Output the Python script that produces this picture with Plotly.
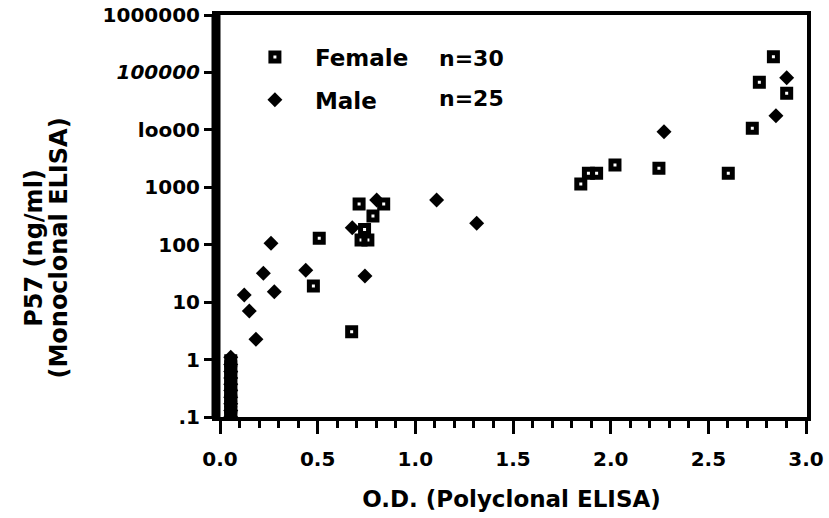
import plotly.graph_objects as go

# ---- data ----
female_od = [0.508, 0.478, 0.674, 0.712, 0.838, 0.783, 0.740, 0.722, 0.757,
             2.833, 2.761, 2.901, 2.725, 2.022, 1.928, 1.886, 1.847, 2.247, 2.602,
             0.055, 0.055, 0.055, 0.055, 0.055, 0.055, 0.055, 0.055, 0.055, 0.055, 0.055]
female_p57 = [129, 19.1, 3.06, 512, 512, 316, 184, 121, 121,
              188000, 67300, 43300, 10650, 2445, 1752, 1752, 1141, 2142, 1752,
              0.1, 0.12, 0.15, 0.19, 0.24, 0.3, 0.38, 0.48, 0.6, 0.75, 0.95]
male_od = [0.124, 0.150, 0.184, 0.222, 0.261, 0.278, 0.439, 0.677, 0.742, 0.802,
           1.109, 1.314, 2.273, 2.846, 2.901,
           0.055, 0.055, 0.055, 0.055, 0.055, 0.055, 0.055, 0.055, 0.055, 0.055]
male_p57 = [13.3, 7.0, 2.25, 31.8, 106, 15.2, 36, 198, 28.5, 601,
            601, 236, 9290, 17650, 81000,
            0.1, 0.13, 0.17, 0.22, 0.29, 0.37, 0.48, 0.62, 0.82, 1.1]

x_ticks = [0.0, 0.5, 1.0, 1.5, 2.0, 2.5, 3.0]
x_ticklabels = ["0.0", "0.5", "1.0", "1.5", "2.0", "2.5", "3.0"]
y_ticks = [0.1, 1, 10, 100, 1000, 10000, 100000, 1000000]
y_ticklabels = [".1", "1", "10", "100", "1000", "loo00", "<i>100000</i>", "1000000"]

series_names = ["Female", "Male"]
series_counts = ["n=30", "n=25"]

FONT = "DejaVu Sans"

fig = go.Figure()
fig.add_trace(go.Scatter(
    x=female_od, y=female_p57, mode="markers", name=series_names[0],
    legendgroup="f",
    marker=dict(symbol="square-open", size=8, color="black",
                line=dict(color="black", width=5)),
))
fig.add_trace(go.Scatter(
    x=male_od, y=male_p57, mode="markers", name=series_names[1],
    legendgroup="m",
    marker=dict(symbol="diamond", size=11.5, color="black", line=dict(width=0)),
))

fig.update_layout(
    width=829, height=518,
    margin=dict(l=216, r=22, t=15, b=101),
    paper_bgcolor="white", plot_bgcolor="white",
    font=dict(family=FONT, color="black"),
    showlegend=True,
    legend=dict(x=0.032, y=0.949, xanchor="left", yanchor="top",
                font=dict(family=FONT, size=23, weight="bold"),
                itemwidth=70, tracegroupgap=10, traceorder="grouped",
                bgcolor="rgba(0,0,0,0)"),
    xaxis=dict(
        automargin=False,
        range=[-0.0205, 3.005],
        tickmode="array", tickvals=x_ticks, ticktext=x_ticklabels,
        ticks="outside", ticklen=13, tickwidth=3, tickcolor="black",
        minor=dict(tickmode="linear", tick0=0, dtick=0.1, ticks="outside",
                   ticklen=7, tickwidth=3, tickcolor="black", showgrid=False),
        showline=True, linewidth=4, linecolor="black", mirror=True,
        showgrid=False, zeroline=False,
        tickfont=dict(family=FONT, size=20, weight="bold"),
        ticklabelstandoff=8,
        title=dict(text="O.D. (Polyclonal ELISA)",
                   font=dict(family=FONT, size=23, weight="bold"), standoff=22),
    ),
    yaxis=dict(
        automargin=False,
        type="log", range=[-1, 6],
        tickmode="array", tickvals=y_ticks, ticktext=y_ticklabels,
        ticks="outside", ticklen=8, tickwidth=3, tickcolor="black",
        showline=True, linewidth=4, linecolor="black", mirror=True,
        showgrid=False, zeroline=False,
        tickfont=dict(family=FONT, size=20, weight="bold"),
    ),
    shapes=[dict(type="line", xref="paper", yref="paper", x0=0, x1=0, y0=0, y1=1,
                 line=dict(color="black", width=9))],
    annotations=[
        dict(text="P57 (ng/ml)", textangle=-90, xref="paper", yref="paper",
             x=-0.307, y=0.42, xanchor="center", yanchor="middle", showarrow=False,
             font=dict(family=FONT, size=24, weight="bold")),
        dict(text="(Monoclonal ELISA)", textangle=-90, xref="paper", yref="paper",
             x=-0.265, y=0.42, xanchor="center", yanchor="middle", showarrow=False,
             font=dict(family=FONT, size=24, weight="bold")),
        dict(text=series_counts[0], xref="paper", yref="paper", x=0.374, y=0.893,
             xanchor="left", yanchor="middle", showarrow=False,
             font=dict(family=FONT, size=22, weight="bold")),
        dict(text=series_counts[1], xref="paper", yref="paper", x=0.374, y=0.793,
             xanchor="left", yanchor="middle", showarrow=False,
             font=dict(family=FONT, size=22, weight="bold")),
    ],
)

fig.write_html("out.html")
